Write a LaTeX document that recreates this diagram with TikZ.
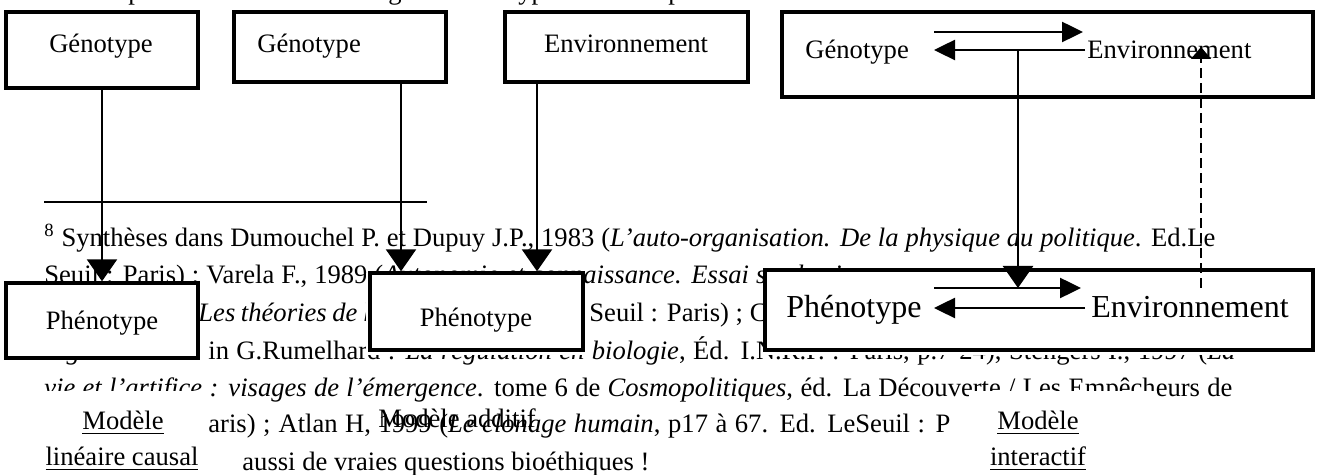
\documentclass[tikz,border=0pt]{standalone}
\usepackage{fontspec}
\setmainfont{Liberation Serif}
\usetikzlibrary{arrows.meta}

\tikzset{
  boite/.style={draw, line width=1.7pt, fill=white, inner sep=0pt},
  texte/.style={font=\fontsize{13.3}{18.75}\selectfont, inner sep=0pt, anchor=base west},
  grand/.style={font=\fontsize{16}{19}\selectfont, inner sep=0pt, anchor=base west},
  fleche/.style={line width=1.25pt, -{Triangle[length=11pt,width=15pt]}},
  flechel/.style={line width=1.25pt, -{Triangle[length=10.5pt,width=10pt]}},
  pointille/.style={line width=0.75pt, dash pattern=on 5pt off 2.5pt, -{Triangle[length=6pt,width=10pt]}},
  cache/.style={fill=white}
}

\begin{document}
\begin{tikzpicture}[x=0.5pt,y=0.5pt,yscale=-1]
\useasboundingbox (0,0) rectangle (1318,475);

% bas de la ligne du dessus
\node[texte] (bout1) at (128,0) {p};
\node[texte] (bout2) at (388,0) {g};
\node[texte] (bout3) at (518,0) {yp};
\node[texte] (bout4) at (668,0) {p};

% filet et note 8
\draw[line width=1.2pt] (44,202) -- (427,202);
\node[texte] (note1) at (44,247) {\makebox[585.5pt][s]{\textsuperscript{8} Synthèses dans Dumouchel P. et Dupuy J.P., 1983 (\textit{L'auto-organisation. De la physique au politique}. Ed.Le}};
\node[texte] (note2) at (44,284) {\makebox[361pt][s]{Seuil : Paris) ; Varela F., 1989 (\textit{Autonomie et connaissance. Essai s}}\textit{ur le vivant}};
\node[texte] (note3a) at (198,322) {\makebox[86pt][s]{\textit{Les théories de l}}\textit{a complexité}};
\node[texte] (note3b) at (589,322) {Seuil : Paris) ; Canguilhem G.};
\node[texte] (note4a) at (44,360) {\textit{régulation}};
\node[texte] (note4b) at (208,360) {\makebox[513.5pt][s]{in G.Rumelhard : \textit{La régulation en biologie}, Éd. I.N.R.P. : Paris, p.7-24), Stengers I., 1997 (\textit{La}}};
\node[texte] (note5) at (44,397) {\makebox[594pt][s]{\textit{vie et l'artifice : visages de l'émergence}. tome 6 de \textit{Cosmopolitiques}, éd. La Découverte / Les Empêcheurs de}};
\node[texte] (note6) at (208,433) {\makebox[371pt][s]{aris) ; Atlan H, 1999 (\textit{Le clonage humain}, p17 à 67. Ed. LeSeuil : P}};
\node[texte] (note7) at (242,471) {aussi de vraies questions bioéthiques !};

% caches blancs des cadres de texte
\fill[cache] (366,273) rectangle (585,355);
\fill[cache] (763,270) rectangle (1313,355);
\fill[cache] (40,391) rectangle (205,480);
\fill[cache] (969,391) rectangle (1157,480);

% cadres du haut
\node[boite, minimum width=96pt, minimum height=38pt] (gen1) at (102,50) {};
\node[boite, minimum width=106pt, minimum height=35pt] (gen2) at (340,47) {};
\node[boite, minimum width=121.5pt, minimum height=35pt] (env) at (626.5,47) {};
\node[boite, minimum width=265.5pt, minimum height=42.5pt] (inter) at (1047.5,54.5) {};

% cadres du bas
\node[boite, minimum width=96pt, minimum height=37.5pt] (phen1) at (102,320.5) {};
\node[boite, minimum width=106.5pt, minimum height=38.5pt] (phen2) at (476.5,311.5) {};
\node[boite, minimum width=274pt, minimum height=40pt] (phen3) at (1039,310) {};

% textes des cadres
\node[texte, anchor=base] (tgen1) at (101,53) {Génotype};
\node[texte] (tgen2) at (257,53) {Génotype};
\node[texte, anchor=base] (tenv) at (626,53) {Environnement};
\node[texte] (tgen4) at (805,59) {Génotype};
\node[texte] (tenv4) at (1087,59) {Environnement};
\node[texte, anchor=base] (tphen1) at (102,330) {Phénotype};
\node[texte, anchor=base] (tphen2) at (476,327) {Phénotype};
\node[grand] (tphen3) at (786,318) {Phénotype};
\node[grand] (tenv3) at (1091,318) {Environnement};

% points des fleches
\coordinate (colA) at (401,0);
\coordinate (colB) at (537,0);
\coordinate (colC) at (1018,0);
\coordinate (colD) at (1201,0);
\coordinate (hautG) at (934,32);
\coordinate (hautD) at (1083,32);
\coordinate (basD) at (1085,50);
\coordinate (basG) at (934,50);
\coordinate (hautG3) at (934,288);
\coordinate (hautD3) at (1081,288);
\coordinate (basD3) at (1085,308);
\coordinate (basG3) at (934,308);

% fleches
\draw[flechel] (hautG) -- (hautD);
\draw[flechel] (basD) -- (basG);
\draw[flechel] (hautG3) -- (hautD3);
\draw[flechel] (basD3) -- (basG3);
\draw[fleche] (gen1.south) -- (phen1.north);
\draw[fleche] (gen2.south -| colA) -- (phen2.north -| colA);
\draw[fleche] (env.south -| colB) -- (phen2.north -| colB);
\draw[fleche] (basG -| colC) -- (hautG3 -| colC);
\draw[pointille] (hautG3 -| colD) -- ([yshift=-1.5pt]basG -| colD);

% legendes
\node[texte, anchor=base] (modA1) at (123,430) {\underline{Modèle}};
\node[texte, anchor=base] (modA2) at (122,466) {\underline{linéaire causal}};
\node[texte] (modB) at (378,428) {Modèle additif};
\node[texte, anchor=base] (modC1) at (1038,430) {\underline{Modèle}};
\node[texte, anchor=base] (modC2) at (1038,466) {\underline{interactif}};

\end{tikzpicture}
\end{document}
